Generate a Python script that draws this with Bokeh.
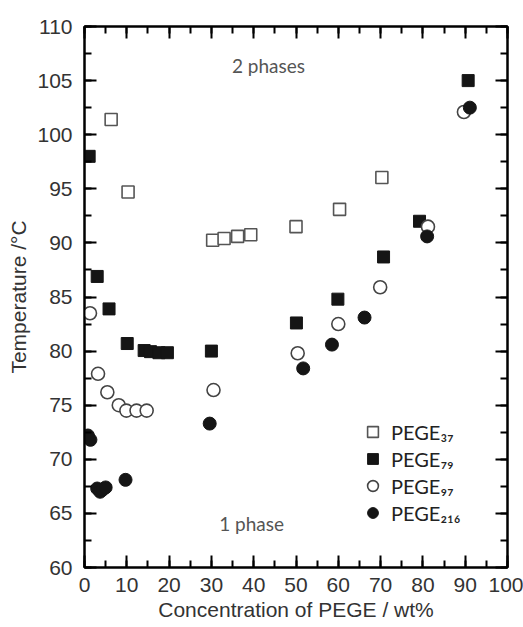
from bokeh.plotting import figure
from bokeh.models import (LinearAxis, SingleIntervalTicker, Range1d, Legend,
                          LegendItem, Label, CustomJSTickFormatter)
from bokeh.embed import file_html
from bokeh.resources import INLINE

# ---- data ----
x37 = [6.3, 10.3, 30.3, 33.0, 36.2, 39.3, 50.0, 60.3, 70.3]
y37 = [101.4, 94.7, 90.25, 90.4, 90.6, 90.75, 91.5, 93.1, 96.05]

x79 = [1.1, 3.0, 5.8, 10.1, 14.1, 15.6, 17.6, 19.6, 30.0, 50.1, 59.9, 70.7, 79.2, 90.7]
y79 = [98.0, 86.9, 83.9, 80.7, 80.05, 79.95, 79.85, 79.85, 80.0, 82.6, 84.8, 88.7, 92.0, 105.0]

x97 = [1.3, 3.2, 5.4, 8.1, 9.9, 12.3, 14.7, 30.5, 50.4, 60.0, 69.9, 81.2, 89.7]
y97 = [83.5, 77.9, 76.2, 75.0, 74.5, 74.5, 74.5, 76.4, 79.8, 82.5, 85.9, 91.5, 102.1]

x216 = [0.8, 1.4, 3.0, 3.7, 4.3, 5.0, 9.7, 29.6, 51.7, 58.5, 66.2, 81.0, 91.1]
y216 = [72.2, 71.8, 67.3, 67.0, 67.2, 67.4, 68.1, 73.3, 78.4, 80.6, 83.1, 90.6, 102.5]

series_labels = ["PEGE\u2083\u2087", "PEGE\u2087\u2089", "PEGE\u2089\u2087", "PEGE\u2082\u2081\u2086"]
x_title = "Concentration of PEGE / wt%"
y_title = "Temperature /\u00b0C"
region_labels = ["2 phases", "1 phase"]

AX_FONT = "Liberation Sans"
TXT_FONT = "Lato"

p = figure(width=523, height=627, output_backend="svg", toolbar_location=None,
           x_range=Range1d(0, 100), y_range=Range1d(60, 110),
           min_border_left=84, min_border_right=16, min_border_top=26,
           min_border_bottom=60)
p.background_fill_color = "white"
p.border_fill_color = "white"
p.grid.visible = False
p.outline_line_color = "black"
p.outline_line_width = 2

xt = SingleIntervalTicker(interval=10, num_minor_ticks=2)
yt = SingleIntervalTicker(interval=5, num_minor_ticks=2)


def style_axis(ax, labels=True):
    ax.axis_line_color = "black"
    ax.axis_line_width = 2
    ax.major_tick_in = 12
    ax.major_tick_out = 0
    ax.minor_tick_in = 7
    ax.minor_tick_out = 0
    ax.major_tick_line_width = 2
    ax.minor_tick_line_width = 2
    ax.major_tick_line_color = "black"
    ax.minor_tick_line_color = "black"
    if labels:
        ax.major_label_text_font = AX_FONT
        ax.major_label_text_font_size = "21px"
        ax.major_label_text_color = "#333333"
        ax.axis_label_text_font = AX_FONT
        ax.axis_label_text_font_size = "21px"
        ax.axis_label_text_font_style = "normal"
        ax.axis_label_text_color = "#333333"
    else:
        ax.formatter = CustomJSTickFormatter(code="return ''")
        ax.major_label_text_font_size = "4px"
        ax.major_label_standoff = 0
        ax.axis_label_standoff = 0


xa = p.xaxis[0]
xa.ticker = xt
style_axis(xa)
xa.axis_label = x_title
xa.major_label_standoff = 10
xa.axis_label_standoff = 3

ya = p.yaxis[0]
ya.ticker = yt
style_axis(ya)
ya.axis_label = y_title
ya.major_label_standoff = 12
ya.axis_label_standoff = 4

top = LinearAxis(ticker=SingleIntervalTicker(interval=10, num_minor_ticks=2))
style_axis(top, labels=False)
p.add_layout(top, "above")
right = LinearAxis(ticker=SingleIntervalTicker(interval=5, num_minor_ticks=2))
style_axis(right, labels=False)
p.add_layout(right, "right")

r37 = p.scatter(x37, y37, marker="square", size=12, fill_color="white",
                line_color="#555555", line_width=1.6)
r79 = p.scatter(x79, y79, marker="square", size=12, fill_color="#151515",
                line_color="#151515", line_width=1)
r97 = p.scatter(x97, y97, marker="circle", size=13, fill_color="white",
                line_color="#444444", line_width=1.6)
r216 = p.scatter(x216, y216, marker="circle", size=13, fill_color="#151515",
                 line_color="#151515", line_width=1)

legend = Legend(items=[LegendItem(label=series_labels[0], renderers=[r37]),
                       LegendItem(label=series_labels[1], renderers=[r79]),
                       LegendItem(label=series_labels[2], renderers=[r97]),
                       LegendItem(label=series_labels[3], renderers=[r216])],
                location=(275, 41), orientation="vertical")
legend.border_line_color = None
legend.background_fill_alpha = 0
legend.padding = 0
legend.margin = 0
legend.spacing = 0
legend.glyph_width = 27
legend.glyph_height = 27
legend.label_height = 27
legend.label_standoff = 5
legend.label_text_font = TXT_FONT
legend.label_text_font_size = "20px"
legend.label_text_color = "#222222"
p.add_layout(legend)

p.add_layout(Label(x=43.5, y=106.4, text=region_labels[0], text_font=TXT_FONT,
                   text_font_size="19px", text_color="#555555",
                   text_align="center", text_baseline="middle"))
p.add_layout(Label(x=39.5, y=64.1, text=region_labels[1], text_font=TXT_FONT,
                   text_font_size="19px", text_color="#555555",
                   text_align="center", text_baseline="middle"))

open("out.html", "w").write(file_html(p, INLINE))
